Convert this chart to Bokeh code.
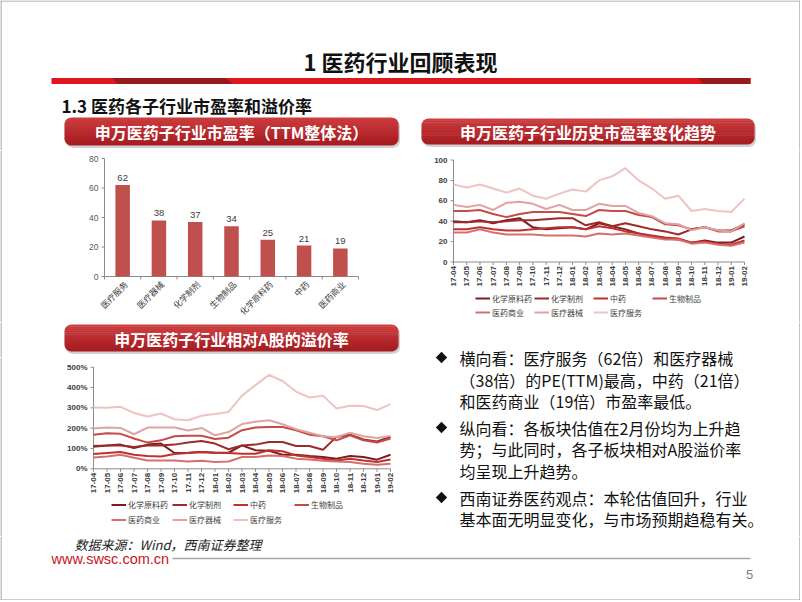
import math
from bokeh.plotting import figure
from bokeh.models import Range1d, Legend, LegendItem
from bokeh.layouts import column, row
from bokeh.embed import file_html
from bokeh.resources import INLINE
from bokeh.core.properties import value

# ---------------- data ----------------
pe_categories = ["医疗服务", "医疗器械", "化学制剂", "生物制品", "化学原料药", "中药", "医药商业"]
pe_values = [62, 38, 37, 34, 25, 21, 19]

months = ["17-04", "17-05", "17-06", "17-07", "17-08", "17-09", "17-10", "17-11", "17-12",
          "18-01", "18-02", "18-03", "18-04", "18-05", "18-06", "18-07", "18-08", "18-09",
          "18-10", "18-11", "18-12", "19-01", "19-02"]

series_names = ["化学原料药", "化学制剂", "中药", "生物制品", "医药商业", "医疗器械", "医疗服务"]
series_colors = ["#7A1E1E", "#9E2A2A", "#C0302E", "#C44B48", "#D4706E", "#E0A3A1", "#EDC4C3"]

pe_chem_raw = [40, 39, 41, 38, 41, 43, 34, 32, 33, 34, 32, 38, 35, 32, 28, 25, 23, 22, 19, 21, 19, 19, 25]
pe_chem_prep = [39, 39, 40, 39, 40, 41, 41, 42, 43, 43, 36, 39, 35, 38, 35, 32, 30, 27, 32, 34, 31, 31, 37]
pe_tcm = [32, 32, 34, 32, 31, 31, 32, 33, 34, 34, 32, 35, 33, 30, 28, 26, 24, 23, 19, 20, 18, 17, 21]
pe_bio = [50, 50, 51, 47, 44, 47, 49, 49, 49, 47, 45, 51, 50, 50, 46, 44, 37, 36, 32, 34, 30, 30, 35]
pe_commerce = [29, 29, 32, 29, 27, 27, 27, 26, 26, 26, 25, 28, 27, 28, 26, 24, 22, 22, 18, 19, 17, 16, 19]
pe_device = [56, 54, 56, 51, 58, 59, 57, 52, 56, 51, 51, 57, 55, 55, 48, 45, 38, 37, 31, 34, 31, 30, 38]
pe_service = [76, 73, 76, 72, 68, 72, 65, 62, 67, 71, 69, 80, 84, 92, 80, 72, 62, 65, 50, 52, 50, 49, 62]

pr_chem_raw = [112, 115, 119, 102, 119, 124, 78, 79, 83, 79, 79, 115, 91, 89, 69, 69, 63, 58, 50, 63, 58, 45, 69]
pr_chem_prep = [109, 115, 115, 107, 115, 115, 119, 129, 137, 124, 96, 115, 119, 132, 132, 112, 112, 94, 157, 168, 144, 135, 157]
pr_tcm = [73, 78, 83, 69, 63, 61, 73, 78, 83, 79, 78, 74, 74, 91, 86, 66, 58, 50, 41, 50, 41, 33, 46]
pr_bio = [168, 175, 172, 149, 129, 140, 160, 163, 163, 147, 153, 190, 203, 206, 206, 190, 168, 160, 140, 165, 140, 129, 149]
pr_commerce = [56, 61, 69, 54, 41, 41, 41, 36, 40, 33, 36, 58, 58, 66, 63, 50, 46, 40, 36, 33, 25, 20, 25]
pr_device = [198, 203, 201, 170, 203, 203, 203, 188, 201, 165, 181, 220, 231, 239, 219, 195, 177, 160, 155, 178, 160, 152, 162]
pr_service = [302, 300, 305, 275, 257, 272, 244, 239, 261, 270, 280, 360, 412, 462, 432, 380, 351, 360, 297, 310, 309, 289, 318]

pe_series = [pe_chem_raw, pe_chem_prep, pe_tcm, pe_bio, pe_commerce, pe_device, pe_service]
pr_series = [pr_chem_raw, pr_chem_prep, pr_tcm, pr_bio, pr_commerce, pr_device, pr_service]

bar_ticks = [0, 20, 40, 60, 80]
pe_ticks = [0, 20, 40, 60, 80, 100]
pr_ticks = [0, 100, 200, 300, 400, 500]
pr_tick_labels = ["0%", "100%", "200%", "300%", "400%", "500%"]

CJK = "Noto Sans CJK SC"
LAT = "Liberation Sans"
AXIS_C = "#8C8C8C"
BORDER_C = "#9C9C9C"
W, H = 800, 600


# ---------------- helpers ----------------
def base_fig(w, h, xr, yr):
    p = figure(width=w, height=h, x_range=xr, y_range=yr, output_backend="svg",
               toolbar_location=None, x_axis_location=None, y_axis_location=None, min_border=0)
    p.grid.visible = False
    p.outline_line_color = None
    p.background_fill_color = "white"
    p.border_fill_color = "white"
    return p


def screen_fig(x0, x1, y0, y1):
    # coordinates in slide pixels, y growing downwards
    return base_fig(int(x1 - x0), int(y1 - y0), Range1d(x0, x1), Range1d(y1, y0))


def chart_fig(box, area, xr, yr):
    bx0, by0, bx1, by1 = box
    ax0, ay0, ax1, ay1 = area
    sx = (xr[1] - xr[0]) / (ax1 - ax0)
    sy = (yr[1] - yr[0]) / (ay1 - ay0)
    xrange = Range1d(xr[0] - (ax0 - bx0) * sx, xr[1] + (bx1 - ax1) * sx)
    yrange = Range1d(yr[0] - (by1 - ay1) * sy, yr[1] + (ay0 - by0) * sy)
    p = base_fig(int(bx1 - bx0), int(by1 - by0), xrange, yrange)
    return p, sx, sy


def frame_borders(p, box, sides, to_data=None):
    bx0, by0, bx1, by1 = box
    segs = {"left": (0.5, by0, 0.5, by1), "right": (W - 0.5, by0, W - 0.5, by1),
            "top": (bx0, 0.5, bx1, 0.5), "bottom": (bx0, H - 0.5, bx1, H - 0.5)}
    for s in sides:
        x0, y0, x1, y1 = segs[s]
        if to_data:
            x0, y0 = to_data(x0, y0)
            x1, y1 = to_data(x1, y1)
        p.segment(x0=[x0], y0=[y0], x1=[x1], y1=[y1], line_color=BORDER_C, line_width=1.2)


def draw_axes(p, sx, sy, xr, yr, yticks, ylabels, xticks, bold=True, ylab_size="8px",
              ylab_color="#404040"):
    p.segment(x0=[xr[0]], y0=[yr[0]], x1=[xr[0]], y1=[yr[1]], line_color=AXIS_C, line_width=1)
    p.segment(x0=[xr[0] - 3 * sx] * len(yticks), y0=yticks, x1=[xr[0]] * len(yticks), y1=yticks,
              line_color=AXIS_C, line_width=1)
    p.text(x=[xr[0]] * len(yticks), y=yticks, text=ylabels, x_offset=-6,
           text_font=value(LAT), text_font_size=ylab_size,
           text_font_style="bold" if bold else "normal", text_color=ylab_color,
           text_align="right", text_baseline="middle")
    p.segment(x0=[xr[0]], y0=[yr[0]], x1=[xr[1]], y1=[yr[0]], line_color=AXIS_C, line_width=1)
    p.segment(x0=xticks, y0=[yr[0]] * len(xticks), x1=xticks, y1=[yr[0] - 3 * sy] * len(xticks),
              line_color=AXIS_C, line_width=1)


def inset_at(y, y0, y1, r):
    d = min(y - y0, y1 - y)
    if d >= r:
        return 0.0
    t = r - d
    return r - math.sqrt(max(r * r - t * t, 0.0))


def band_poly(x0, y0, x1, y1, r, ya, yb, n=6):
    ys_s = [ya + (yb - ya) * k / n for k in range(n + 1)]
    left = [(x0 + inset_at(y, y0, y1, r), y) for y in ys_s]
    right = [(x1 - inset_at(y, y0, y1, r), y) for y in reversed(ys_s)]
    pts = left + right
    return [q[0] for q in pts], [q[1] for q in pts]


def header(p, x0, y0, x1, y1, text, fs="16px"):
    r = 7
    xs, ys = band_poly(x0 + 1.5, y0 + 2.5, x1 + 1.5, y1 + 2.5, r, y0 + 2.5, y1 + 2.5, n=24)
    p.patch(xs, ys, fill_color="#7A7A7A", fill_alpha=0.35, line_color=None)
    nb = 14
    top_c = (203, 60, 62)
    bot_c = (166, 28, 32)
    bxs, bys, cols = [], [], []
    for i in range(nb):
        ya = y0 + (y1 - y0) * i / nb
        yb = min(y0 + (y1 - y0) * (i + 1) / nb + 0.4, y1)
        bx, by = band_poly(x0, y0, x1, y1, r, ya, yb)
        bxs.append(bx)
        bys.append(by)
        f = i / (nb - 1)
        c = tuple(int(top_c[k] + (bot_c[k] - top_c[k]) * f) for k in range(3))
        cols.append("#%02x%02x%02x" % c)
    p.patches(bxs, bys, fill_color=cols, line_color=None)
    p.text(x=[(x0 + x1) / 2], y=[(y0 + y1) / 2 + 0.5], text=[text], text_font=value(CJK),
           text_font_size=fs, text_font_style="bold", text_color="white",
           text_align="center", text_baseline="middle")


def line_chart(box, area, yr, yticks, ylabels, data_list, legend_loc, label_w, row_h):
    xr = (0, len(months) - 1)
    p, sx, sy = chart_fig(box, area, xr, yr)
    xs = list(range(len(months)))
    draw_axes(p, sx, sy, xr, yr, yticks, ylabels, xs)
    p.text(x=xs, y=[yr[0]] * len(xs), text=months, angle=math.pi / 2, y_offset=4,
           text_font=value(LAT), text_font_size="8px", text_font_style="bold",
           text_color="#404040", text_align="right", text_baseline="middle")
    items = []
    for name, col, vals in zip(series_names, series_colors, data_list):
        r = p.line(x=xs, y=vals, line_color=col, line_width=2)
        items.append(LegendItem(label=name, renderers=[r]))
    leg = Legend(items=items, orientation="horizontal", ncols=4, location=legend_loc,
                 label_text_font=CJK, label_text_font_size="8px",
                 label_text_color="#404040", glyph_width=15, glyph_height=row_h,
                 label_height=row_h, label_width=label_w, label_standoff=2, spacing=2,
                 padding=0, margin=0, border_line_color=None, background_fill_alpha=0)
    p.add_layout(leg)
    return p, sx, sy


def data_mapper(area, xr, yr, sx, sy):
    ax0, ay0, ax1, ay1 = area
    return lambda px, py: (xr[0] + (px - ax0) * sx, yr[0] + (ay1 - py) * sy)


# ---------------- top (title, bar, subtitle, two headers) ----------------
top_box = (0, 0, W, 150)
top = screen_fig(0, W, 0, 150)
frame_borders(top, top_box, ["left", "right", "top"])
top.text(x=[400], y=[60], text=["1 医药行业回顾表现"], text_font=value(CJK),
         text_font_size="22px", text_font_style="bold", text_color="#111111",
         text_align="center", text_baseline="middle")
top.quad(left=[51], right=[750], top=[77.5], bottom=[83.5], fill_color="#E0151F", line_color=None)
top.patch([112, 225, 233, 117], [77.5, 77.5, 83.5, 83.5], fill_color="#951B1E", line_color=None)
top.patch([698, 750, 750, 702], [77.5, 77.5, 83.5, 83.5], fill_color="#951B1E", line_color=None)
top.text(x=[61], y=[105], text=["1.3 医药各子行业市盈率和溢价率"], text_font=value(CJK),
         text_font_size="17px", text_font_style="bold", text_color="#111111",
         text_align="left", text_baseline="middle")
header(top, 64, 117, 398, 145, "申万医药子行业市盈率（TTM整体法）")
header(top, 421, 118, 754, 144, "申万医药子行业历史市盈率变化趋势")

# ---------------- bar chart ----------------
bar_box = (0, 150, 410, 322)
bar_area = (104, 158, 358, 276)
bar_xr = (0, len(pe_categories))
bar_yr = (0, 80)
bar, bsx, bsy = chart_fig(bar_box, bar_area, bar_xr, bar_yr)
frame_borders(bar, bar_box, ["left"], data_mapper(bar_area, bar_xr, bar_yr, bsx, bsy))
bar_x = [i + 0.5 for i in range(len(pe_categories))]
draw_axes(bar, bsx, bsy, bar_xr, bar_yr, bar_ticks, [str(t) for t in bar_ticks],
          list(range(len(pe_categories) + 1)), bold=False, ylab_size="8.5px", ylab_color="#595959")
bar.vbar(x=bar_x, top=pe_values, bottom=0, width=0.4, fill_color="#C0504D", line_color=None)
bar.text(x=bar_x, y=pe_values, text=[str(v) for v in pe_values], y_offset=-4,
         text_font=value(LAT), text_font_size="9.5px", text_color="#404040",
         text_align="center", text_baseline="bottom")
bar.text(x=bar_x, y=[0] * len(bar_x), text=pe_categories, angle=math.pi / 4,
         x_offset=3, y_offset=6, text_font=value(CJK), text_font_size="8.5px",
         text_color="#404040", text_align="right", text_baseline="middle")

# ---------------- PE history chart ----------------
pe_box = (410, 150, W, 322)
pe_area = (453, 159.5, 744, 261.5)
pe, psx, psy = line_chart(pe_box, pe_area, (0, 100), pe_ticks, [str(t) for t in pe_ticks],
                          pe_series, (65, 4), 40, 12)
frame_borders(pe, pe_box, ["right"],
              data_mapper(pe_area, (0, len(months) - 1), (0, 100), psx, psy))

# ---------------- header 3 ----------------
h3_box = (0, 322, 410, 357)
h3 = screen_fig(0, 410, 322, 357)
frame_borders(h3, h3_box, ["left"])
header(h3, 64, 324, 398, 351, "申万医药子行业相对A股的溢价率")

# ---------------- premium chart ----------------
pr_box = (0, 357, 410, 536)
pr_area = (93, 366.7, 390, 468.3)
pr, rsx, rsy = line_chart(pr_box, pr_area, (0, 500), pr_ticks, pr_tick_labels, pr_series,
                          (111, 10), 42, 13)
frame_borders(pr, pr_box, ["left"],
              data_mapper(pr_area, (0, len(months) - 1), (0, 500), rsx, rsy))

# ---------------- text block ----------------
txt_box = (410, 322, W, 536)
txt = screen_fig(410, W, 322, 536)
frame_borders(txt, txt_box, ["right"])
lines = [
    ("横向看：医疗服务（62倍）和医疗器械", 357),
    ("（38倍）的PE(TTM)最高，中药（21倍）", 379),
    ("和医药商业（19倍）市盈率最低。", 400),
    ("纵向看：各板块估值在2月份均为上升趋", 427),
    ("势；与此同时，各子板块相对A股溢价率", 448.5),
    ("均呈现上升趋势。", 470),
    ("西南证券医药观点：本轮估值回升，行业", 497),
    ("基本面无明显变化，与市场预期趋稳有关。", 518.5),
]
txt.text(x=[459] * len(lines), y=[l[1] for l in lines], text=[l[0] for l in lines],
         text_font=value(CJK), text_font_size="16px", text_color="#111111",
         text_align="left", text_baseline="middle")
txt.scatter(x=[441, 441, 441], y=[357, 427, 497], marker="square", angle=math.pi / 4,
            size=8, fill_color="#111111", line_color=None)

# ---------------- footer ----------------
foot_box = (0, 536, W, H)
foot = screen_fig(0, W, 536, H)
frame_borders(foot, foot_box, ["left", "right", "bottom"])
foot.text(x=[74], y=[543.5], text=["数据来源：Wind，西南证券整理"], text_font=value(CJK),
          text_font_size="13px", text_font_style="italic", text_color="#222222",
          text_align="left", text_baseline="middle")
foot.text(x=[51], y=[558.5], text=["www.swsc.com.cn"], text_font=value(LAT),
          text_font_size="14.5px", text_color="#C8141C", text_align="left", text_baseline="middle")
foot.line(x=[172, 750], y=[558, 558], line_color="#A6A6A6", line_width=1.5)
foot.text(x=[749], y=[574], text=["5"], text_font=value(LAT), text_font_size="13px",
          text_color="#7F7F7F", text_align="center", text_baseline="middle")

layout = column(top, row(bar, pe), row(column(h3, pr), txt), foot)

open("out.html", "w").write(file_html(layout, INLINE))
